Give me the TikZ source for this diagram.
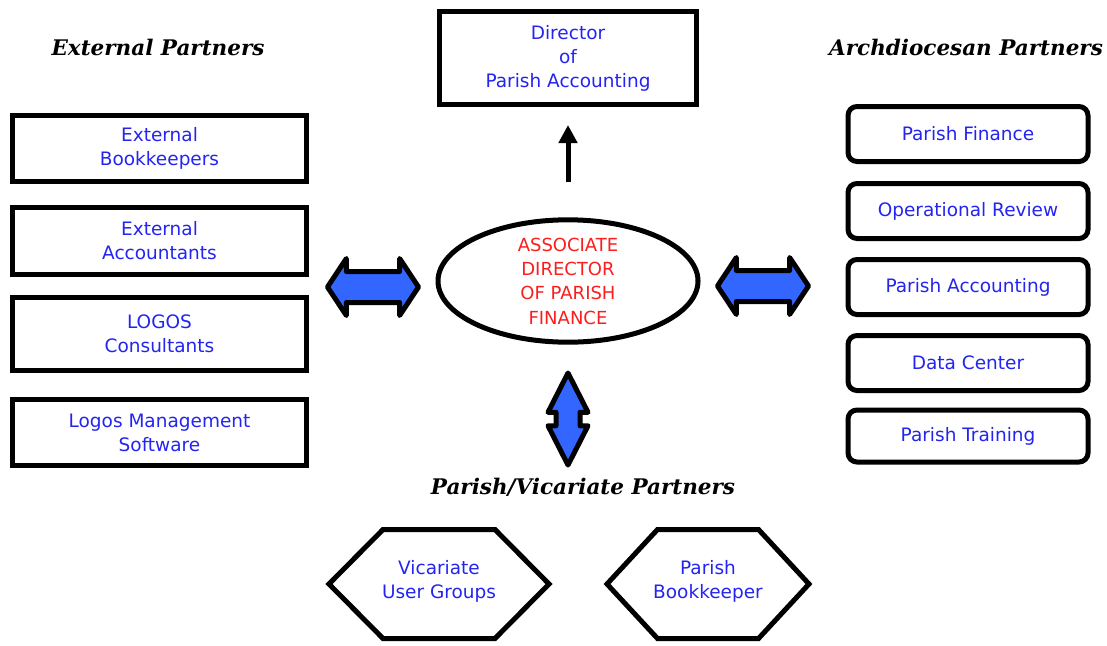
\documentclass[tikz,border=0pt]{standalone}
\usepackage{fontspec}
\setmainfont{DejaVu Sans}
\newfontfamily\titlefont{DejaVu Serif}
\usepackage{xcolor}
\definecolor{labelblue}{RGB}{36, 36, 240}
\definecolor{headred}{RGB}{250, 30, 30}
\definecolor{arrowblue}{RGB}{51, 102, 255}
\usepackage{tikz}
\usetikzlibrary{arrows.meta, positioning, calc, shapes.geometric, shapes.arrows}

\begin{document}
\begin{tikzpicture}[x=1pt, y=-1pt, >=Stealth,
    box/.style={draw, line width=5pt, align=center, text=labelblue, inner sep=0pt,
        font=\fontsize{18.5}{24}\selectfont},
    partbox/.style={box, minimum width=294pt, minimum height=66pt},
    archbox/.style={box, rounded corners=9pt, minimum width=240pt, minimum height=55pt},
    heading/.style={font=\titlefont\bfseries\itshape\fontsize{21.5}{24}\selectfont},
    twoway/.style={double arrow, draw, fill=arrowblue, line width=5pt, line join=round,
        inner xsep=0pt},
    hexline/.style={line width=5pt, line join=miter},
    hextext/.style={align=center, text=labelblue, inner sep=0pt,
        font=\fontsize{18.5}{24}\selectfont}]
    \useasboundingbox (0,0) rectangle (1107,645);
    % group headings
    \node[heading] (exthead) at (158,47) {External Partners};
    \node[heading] (archhead) at (966,47) {Archdiocesan Partners};
    \node[heading] (parhead) at (583,487) {Parish/Vicariate Partners};
    % centre
    \node[box, minimum width=257pt, minimum height=93pt] (dirpa) at (568,58) {Director\\of\\Parish Accounting};
    \node[draw, ellipse, line width=5pt, minimum width=260pt, minimum height=122pt, inner sep=0pt,
        align=center, text=headred, font=\fontsize{18}{24.3}\selectfont] (assoc) at (568,281)
        {ASSOCIATE\\DIRECTOR\\OF PARISH\\FINANCE};
    \draw[line width=5pt, -{Triangle[width=18pt, length=18pt]}, shorten <=35pt, shorten >=18pt]
        (assoc.north) -- (dirpa.south);
    % external partners
    \node[partbox] (extbk) at (159.5,148.5) {External\\Bookkeepers};
    \node[partbox, minimum height=67pt] (extacc) at (159.5,241) {External\\Accountants};
    \node[partbox, minimum height=73pt] (logcon) at (159.5,334) {LOGOS\\Consultants};
    \node[partbox] (logsw) at (159.5,432.5) {Logos Management\\Software};
    % archdiocesan partners
    \node[archbox] (pfin) at (968,134) {Parish Finance};
    \node[archbox] (oprev) at (968,211) {Operational Review};
    \node[archbox] (pacc) at (968,287) {Parish Accounting};
    \node[archbox] (dcen) at (968,363) {Data Center};
    \node[archbox, minimum height=52pt] (ptrain) at (968,436) {Parish Training};
    % two-way links
    \node[twoway, minimum height=91pt, inner ysep=13pt, double arrow head extend=13pt,
        double arrow tip angle=113] (extlink) at (373,287) {};
    \node[twoway, minimum height=91pt, inner ysep=13pt, double arrow head extend=13pt,
        double arrow tip angle=113] (archlink) at (763,286) {};
    \node[twoway, rotate=90, minimum height=92pt, inner ysep=9.5pt, double arrow head extend=8pt,
        double arrow tip angle=54] (parlink) at (568,419) {};
    % parish/vicariate partners
    \coordinate (vugc) at (439,584);
    \draw[hexline] ($(vugc)+(-110,0)$) -- ($(vugc)+(-56,-54.5)$) -- ($(vugc)+(56,-54.5)$)
        -- ($(vugc)+(110,0)$) -- ($(vugc)+(56,54.5)$) -- ($(vugc)+(-56,54.5)$) -- cycle;
    \node[hextext] (vug) at ($(vugc)+(0,-3)$) {Vicariate\\User Groups};
    \coordinate (pbkc) at (708,584);
    \draw[hexline] ($(pbkc)+(-101,0)$) -- ($(pbkc)+(-50.5,-54.5)$) -- ($(pbkc)+(50.5,-54.5)$)
        -- ($(pbkc)+(101,0)$) -- ($(pbkc)+(50.5,54.5)$) -- ($(pbkc)+(-50.5,54.5)$) -- cycle;
    \node[hextext] (pbk) at ($(pbkc)+(0,-3)$) {Parish\\Bookkeeper};
\end{tikzpicture}
\end{document}
